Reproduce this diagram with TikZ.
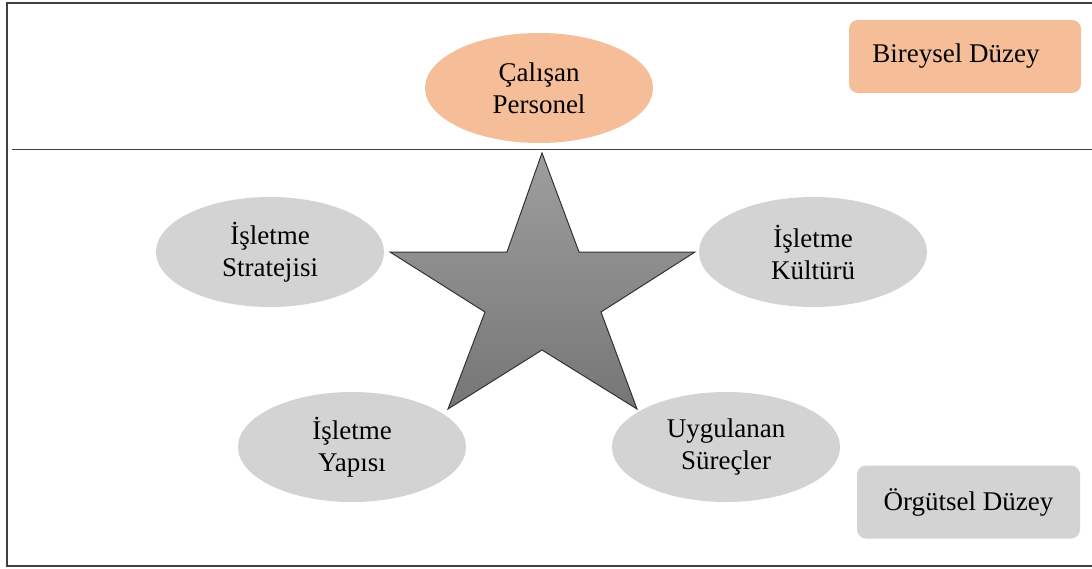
\documentclass[tikz,border=0pt]{standalone}
\usepackage{fontspec}
\setmainfont{Liberation Serif}
\usetikzlibrary{shapes.geometric}
\definecolor{peach}{RGB}{245,190,152}
\definecolor{lgray}{RGB}{211,211,211}
\definecolor{framec}{RGB}{64,64,64}
\definecolor{startop}{RGB}{158,158,158}
\definecolor{starbot}{RGB}{118,118,118}
\begin{document}
\begin{tikzpicture}[x=1pt,y=-1pt,
  txt/.style={font=\fontsize{27}{32}\selectfont, align=center, text=black},
  oval/.style={ellipse, txt, minimum width=228pt, minimum height=110pt, inner sep=0pt, draw=none},
  levelbox/.style={rounded corners=9pt, txt, inner sep=0pt, draw=none, minimum height=73pt}
  ]
\useasboundingbox (0,0) rectangle (1092,568);
% frame and divider
\draw[framec, line width=1.8pt] (7,3) rectangle (1100,566);
\coordinate (divL) at (12,149.5);
\coordinate (divR) at (1092,149.5);
\draw[framec, line width=1.5pt] (divL) -- (divR);
% ovals
\node[oval, fill=peach] (calisan) at (539,88) {Çalışan\\Personel};
\node[oval, fill=lgray] (strateji) at (270,252) {İşletme\\Stratejisi};
\node[oval, fill=lgray] (kultur) at (813,252) {İşletme\\Kültürü};
\node[oval, fill=lgray] (yapi) at (352,447) {İşletme\\Yapısı};
\node[oval, fill=lgray] (surec) at (726,447) {Uygulanan\\Süreçler};
% level boxes
\node[levelbox, fill=peach, minimum width=232pt] (bireysel) at (965,56.5) {Bireysel Düzey\hspace*{18pt}};
\node[levelbox, fill=lgray, minimum width=223pt] (orgutsel) at (968.5,502) {Örgütsel Düzey};
% star
\draw[draw=black!80, line width=1pt, top color=startop, bottom color=starbot]
  (542,153) -- (579,252) -- (695,252) -- (601,312) -- (637,409) -- (542,350)
  -- (448,409) -- (485,312) -- (390,252) -- (507,252) -- cycle;
\end{tikzpicture}
\end{document}
